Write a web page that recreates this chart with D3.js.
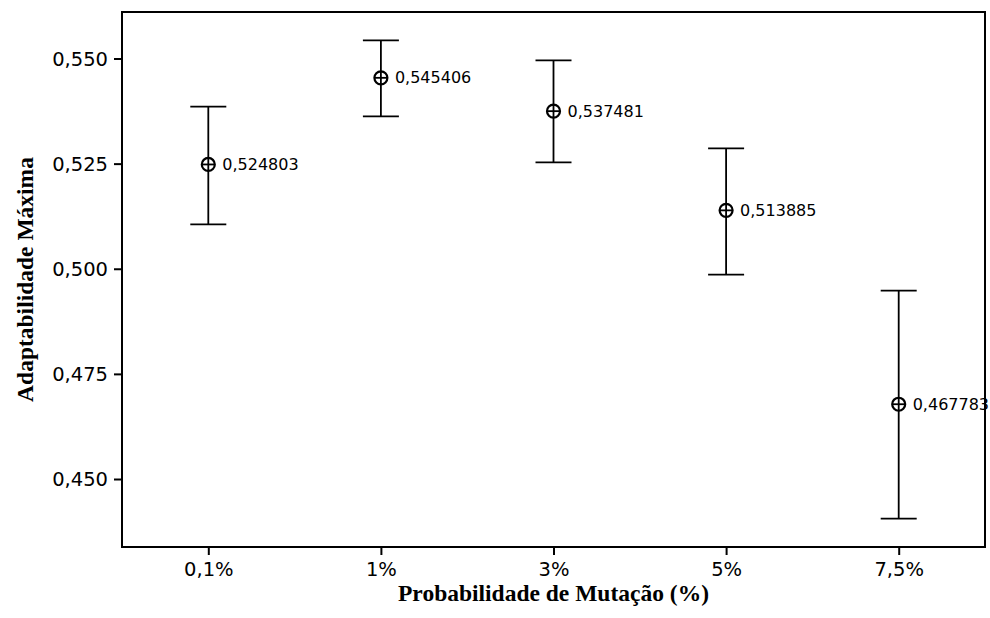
<!DOCTYPE html>
<html>
<head>
<meta charset="utf-8">
<script src="https://cdn.jsdelivr.net/npm/d3@7/dist/d3.min.js"></script>
<style>
  html, body { margin: 0; padding: 0; background: #fff; }
  svg { display: block; }
  .tick text { font-family: "DejaVu Sans", Verdana, sans-serif; font-size: 19.5px; fill: #000; }
  .tick line { stroke: #000; stroke-width: 2; }
  .axis-title { font-family: "Liberation Serif", "Times New Roman", serif; font-weight: bold; font-size: 23.5px; fill: #000; }
  .val { font-family: "DejaVu Sans", Verdana, sans-serif; font-size: 16px; fill: #000; }
</style>
</head>
<body>
<svg id="chart" width="990" height="618"></svg>
<script>
// Mutation probability levels
const categories = ["0,1%", "1%", "3%", "5%", "7,5%"];
// Mean maximum fitness per level
const means = [0.524803, 0.545406, 0.537481, 0.513885, 0.467783];
// Interval bounds around each mean
const lower = [0.51057, 0.53625, 0.52532, 0.49859, 0.44056];
const upper = [0.53854, 0.55433, 0.54957, 0.52864, 0.49478];
// Y axis ticks
const yTicks = [0.450, 0.475, 0.500, 0.525, 0.550];

const locale = d3.formatLocale({ decimal: ",", thousands: ".", grouping: [3], currency: ["", ""] });
const fmtTick = locale.format(".3f");
const fmtVal = locale.format(".6f");

const svg = d3.select("#chart");
const plot = { left: 122, right: 985, top: 12, bottom: 547 };

const x = d3.scalePoint()
  .domain(categories)
  .range([plot.left, plot.right])
  .padding(0.5);

const y = d3.scaleLinear()
  .domain([0.43383, 0.56106])
  .range([plot.bottom, plot.top]);

// Axes
const yAxis = svg.append("g")
  .attr("transform", `translate(${plot.left},0)`)
  .call(d3.axisLeft(y).tickValues(yTicks).tickFormat(fmtTick).tickSize(8).tickPadding(6).tickSizeOuter(0));
yAxis.select(".domain").remove();
yAxis.selectAll(".tick text").attr("dy", "0.35em");

const xAxis = svg.append("g")
  .attr("transform", `translate(0,${plot.bottom})`)
  .call(d3.axisBottom(x).tickSize(8).tickPadding(7).tickSizeOuter(0));
xAxis.select(".domain").remove();

// Plot frame
svg.append("rect")
  .attr("x", plot.left).attr("y", plot.top)
  .attr("width", plot.right - plot.left).attr("height", plot.bottom - plot.top)
  .attr("fill", "none").attr("stroke", "#000").attr("stroke-width", 2);

// Interval bars
const data = categories.map((c, i) => ({ c, m: means[i], lo: lower[i], hi: upper[i] }));
const capHalf = 18;
const g = svg.append("g").attr("stroke", "#000").attr("stroke-width", 1.8).attr("fill", "none");

const bars = g.selectAll("g.bar").data(data).join("g").attr("class", "bar");
bars.append("line")
  .attr("x1", d => x(d.c)).attr("x2", d => x(d.c))
  .attr("y1", d => y(d.hi)).attr("y2", d => y(d.lo));
bars.append("line")
  .attr("x1", d => x(d.c) - capHalf).attr("x2", d => x(d.c) + capHalf)
  .attr("y1", d => y(d.hi)).attr("y2", d => y(d.hi));
bars.append("line")
  .attr("x1", d => x(d.c) - capHalf).attr("x2", d => x(d.c) + capHalf)
  .attr("y1", d => y(d.lo)).attr("y2", d => y(d.lo));

// Mean markers: circle with a crosshair
bars.append("circle")
  .attr("cx", d => x(d.c)).attr("cy", d => y(d.m)).attr("r", 6.5)
  .attr("stroke-width", 2.2);
bars.append("line")
  .attr("x1", d => x(d.c) - 6.5).attr("x2", d => x(d.c) + 6.5)
  .attr("y1", d => y(d.m)).attr("y2", d => y(d.m))
  .attr("stroke-width", 1.8);

// Mean value labels
svg.append("g").selectAll("text").data(data).join("text")
  .attr("class", "val")
  .attr("x", d => x(d.c) + 14)
  .attr("y", d => y(d.m))
  .attr("dy", "0.35em")
  .text(d => fmtVal(d.m));

// Axis titles
svg.append("text")
  .attr("class", "axis-title")
  .attr("x", (plot.left + plot.right) / 2)
  .attr("y", 601)
  .attr("text-anchor", "middle")
  .text("Probabilidade de Mutação (%)");

svg.append("text")
  .attr("class", "axis-title")
  .attr("transform", `translate(33,${(plot.top + plot.bottom) / 2}) rotate(-90)`)
  .attr("text-anchor", "middle")
  .text("Adaptabilidade Máxima");
</script>
</body>
</html>
